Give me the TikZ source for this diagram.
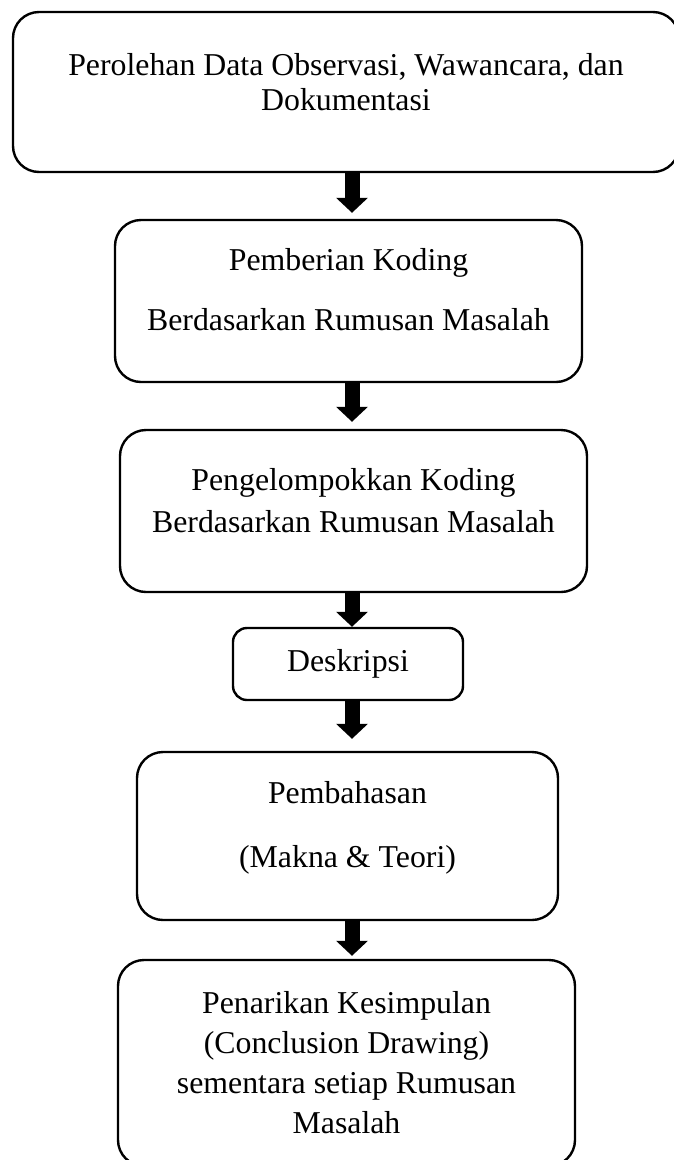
\documentclass[tikz,border=0pt]{standalone}
\usepackage{fontspec}
\setmainfont{Liberation Serif}
\usetikzlibrary{arrows.meta,calc}

\tikzset{
  stepbox/.style={draw, line width=2.4pt, rounded corners=26pt, align=center,
    inner sep=0pt, font=\fontsize{31.8}{40}\selectfont},
  flowarrow/.style={line width=15pt, -{Triangle[width=31pt,length=15pt]}},
}

\begin{document}
\begin{tikzpicture}[x=1pt,y=1pt]
  \useasboundingbox (0,0) rectangle (673,-1160);
  % boxes, top to bottom (1 unit = 1 px of the page)
  \node[stepbox, minimum width=666, minimum height=160, text depth=20pt] (obs) at (346,-92)
    {Perolehan Data Observasi, Wawancara, dan\\[-5pt]Dokumentasi};
  \node[stepbox, minimum width=467, minimum height=162, text depth=24pt] (koding) at (348.5,-301)
    {Pemberian Koding\\[20pt]Berdasarkan Rumusan Masalah};
  \node[stepbox, minimum width=467, minimum height=162, text depth=22pt] (kelompok) at (353.5,-511)
    {Pengelompokkan Koding\\[2pt]Berdasarkan Rumusan Masalah};
  \node[stepbox, rounded corners=14pt, minimum width=230, minimum height=72] (deskripsi) at (348,-664)
    {Deskripsi};
  \node[stepbox, minimum width=421, minimum height=168, text depth=24pt] (bahas) at (347.5,-836)
    {Pembahasan\\[24pt](Makna \& Teori)};
  \node[stepbox, minimum width=457, minimum height=206] (simpul) at (346.5,-1063)
    {Penarikan Kesimpulan\\(Conclusion Drawing)\\sementara setiap Rumusan\\Masalah};
  % block arrows
  \coordinate (ax) at (352,0);
  \foreach \a/\b/\g in {obs/koding/6, koding/kelompok/7, kelompok/deskripsi/0,
      deskripsi/bahas/12, bahas/simpul/3}
    \draw[flowarrow, shorten >=\g pt] (\a.south -| ax) -- (\b.north -| ax);
\end{tikzpicture}
\end{document}
